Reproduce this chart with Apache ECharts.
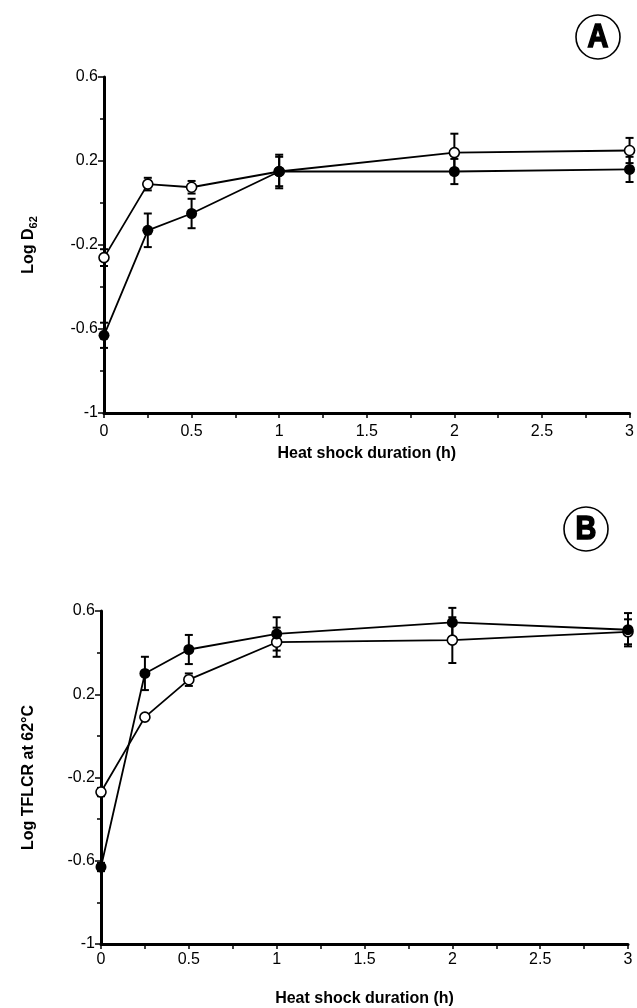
<!DOCTYPE html>
<html>
<head>
<meta charset="utf-8">
<script src="https://cdn.jsdelivr.net/npm/echarts@6/dist/echarts.min.js"></script>
<style>
html,body{margin:0;padding:0;background:#fff;}
#chart{width:637px;height:1008px;}
</style>
</head>
<body>
<div id="chart"></div>
<script>
// ---- data ----
var hours = [0, 0.25, 0.5, 1, 2, 3];
var xTickLabels = ['0', '0.5', '1', '1.5', '2', '2.5', '3'];
var yTickLabels = ['-1', '-0.6', '-0.2', '0.2', '0.6'];

// Panel A: Log D62
var aOpen = [-0.26, 0.09, 0.075, 0.15, 0.24, 0.25];
var aOpenErr = [0.04, 0.03, 0.03, 0.07, 0.09, 0.06];
var aFilled = [-0.63, -0.13, -0.05, 0.15, 0.15, 0.16];
var aFilledErr = [0.06, 0.08, 0.07, 0.08, 0.06, 0.06];

// Panel B: Log TFLCR at 62°C
var bOpen = [-0.27, 0.09, 0.27, 0.45, 0.46, 0.50];
var bOpenErr = [0.02, 0.0, 0.03, 0.07, 0.11, 0.06];
var bFilled = [-0.63, 0.30, 0.415, 0.49, 0.545, 0.51];
var bFilledErr = [0.02, 0.08, 0.07, 0.08, 0.07, 0.08];

function pairs(ys) { return hours.map(function (h, i) { return [h, ys[i]]; }); }
function triples(ys, es) { return hours.map(function (h, i) { return [h, ys[i], es[i]]; }); }

function errRender(params, api) {
  var x = api.value(0), y = api.value(1), e = api.value(2);
  if (!e) return null;
  var top = api.coord([x, y + e]);
  var bot = api.coord([x, y - e]);
  var w = 4;
  var st = { stroke: '#000', lineWidth: 2 };
  return {
    type: 'group',
    children: [
      { type: 'line', shape: { x1: top[0], y1: top[1], x2: bot[0], y2: bot[1] }, style: st },
      { type: 'line', shape: { x1: top[0] - w, y1: top[1], x2: top[0] + w, y2: top[1] }, style: st },
      { type: 'line', shape: { x1: bot[0] - w, y1: bot[1], x2: bot[0] + w, y2: bot[1] }, style: st }
    ]
  };
}

var FONT = 'Liberation Sans, Arial, Helvetica, sans-serif';
var labelFmt = function (v) { return String(Math.round(v * 10) / 10); };

function xAxis(idx, margin, gap) {
  return {
    type: 'value', gridIndex: idx, min: 0, max: 3, interval: 0.5,
    name: 'Heat shock duration (h)', nameLocation: 'middle', nameGap: gap,
    nameTextStyle: { fontFamily: FONT, fontSize: 16, fontWeight: 'bold', color: '#000' },
    axisLine: { onZero: false, lineStyle: { color: '#000', width: 3 } },
    axisTick: { length: 5, lineStyle: { color: '#000', width: 1.5 } },
    minorTick: { show: true, splitNumber: 2, length: 5, lineStyle: { color: '#000', width: 1.5 } },
    axisLabel: { margin: margin, fontFamily: FONT, fontSize: 16, color: '#000', formatter: labelFmt },
    splitLine: { show: false }
  };
}
function yAxis(idx, name, gap, rich) {
  return {
    type: 'value', gridIndex: idx, min: -1, max: 0.6, interval: 0.4,
    name: name, nameLocation: 'middle', nameGap: gap, nameRotate: 90,
    nameTextStyle: { fontFamily: FONT, fontSize: 16, fontWeight: 'bold', color: '#000', rich: rich },
    axisLine: { onZero: false, lineStyle: { color: '#000', width: 3 } },
    axisTick: { length: 6, lineStyle: { color: '#000', width: 1.5 } },
    minorTick: { show: true, splitNumber: 2, length: 4, lineStyle: { color: '#000', width: 1.5 } },
    axisLabel: { margin: 6, fontFamily: FONT, fontSize: 16, color: '#000', formatter: labelFmt },
    splitLine: { show: false }
  };
}

function lineSeries(idx, data, filled) {
  return {
    type: 'line', xAxisIndex: idx, yAxisIndex: idx, data: data, z: 3,
    symbol: 'circle', symbolSize: filled ? 11 : 10,
    lineStyle: { color: '#000', width: 1.8 },
    itemStyle: { color: filled ? '#000' : '#fff', borderColor: '#000', borderWidth: filled ? 0 : 1.6 },
    emphasis: { disabled: true }, animation: false
  };
}
function errSeries(idx, data) {
  return {
    type: 'custom', xAxisIndex: idx, yAxisIndex: idx, data: data, z: 2,
    renderItem: errRender, animation: false
  };
}

function panelBadge(letter, cx, cy) {
  return [
    { type: 'circle', shape: { cx: cx, cy: cy, r: 22 }, style: { fill: '#fff', stroke: '#000', lineWidth: 1.6 } },
    { type: 'text', x: cx, y: cy + 1, scaleX: 0.85, z: 10,
      style: { text: letter, font: 'bold 34px "Liberation Sans", Arial, sans-serif', fill: '#000',
               stroke: '#000', lineWidth: 1.6, align: 'center', verticalAlign: 'middle' } }
  ];
}

var chart = echarts.init(document.getElementById('chart'), null, { renderer: 'canvas' });
chart.setOption({
  backgroundColor: '#fff',
  animation: false,
  grid: [
    { left: 104, right: 5, top: 77, height: 336 },
    { left: 101, right: 9, top: 611, height: 333 }
  ],
  xAxis: [xAxis(0, 11, 33), xAxis(1, 8, 47)],
  yAxis: [
    yAxis(0, '{n|Log D}{s|62}', 65, {
      n: { fontFamily: FONT, fontSize: 16, fontWeight: 'bold', color: '#000' },
      s: { fontFamily: FONT, fontSize: 11, fontWeight: 'bold', color: '#000', padding: [10, 0, 0, 0] }
    }),
    yAxis(1, 'Log TFLCR at 62°C', 64, null)
  ],
  series: [
    errSeries(0, triples(aOpen, aOpenErr)),
    errSeries(0, triples(aFilled, aFilledErr)),
    lineSeries(0, pairs(aOpen), false),
    lineSeries(0, pairs(aFilled), true),
    errSeries(1, triples(bOpen, bOpenErr)),
    errSeries(1, triples(bFilled, bFilledErr)),
    lineSeries(1, pairs(bOpen), false),
    lineSeries(1, pairs(bFilled), true)
  ],
  graphic: panelBadge('A', 598, 37).concat(panelBadge('B', 586, 529))
});
</script>
</body>
</html>
